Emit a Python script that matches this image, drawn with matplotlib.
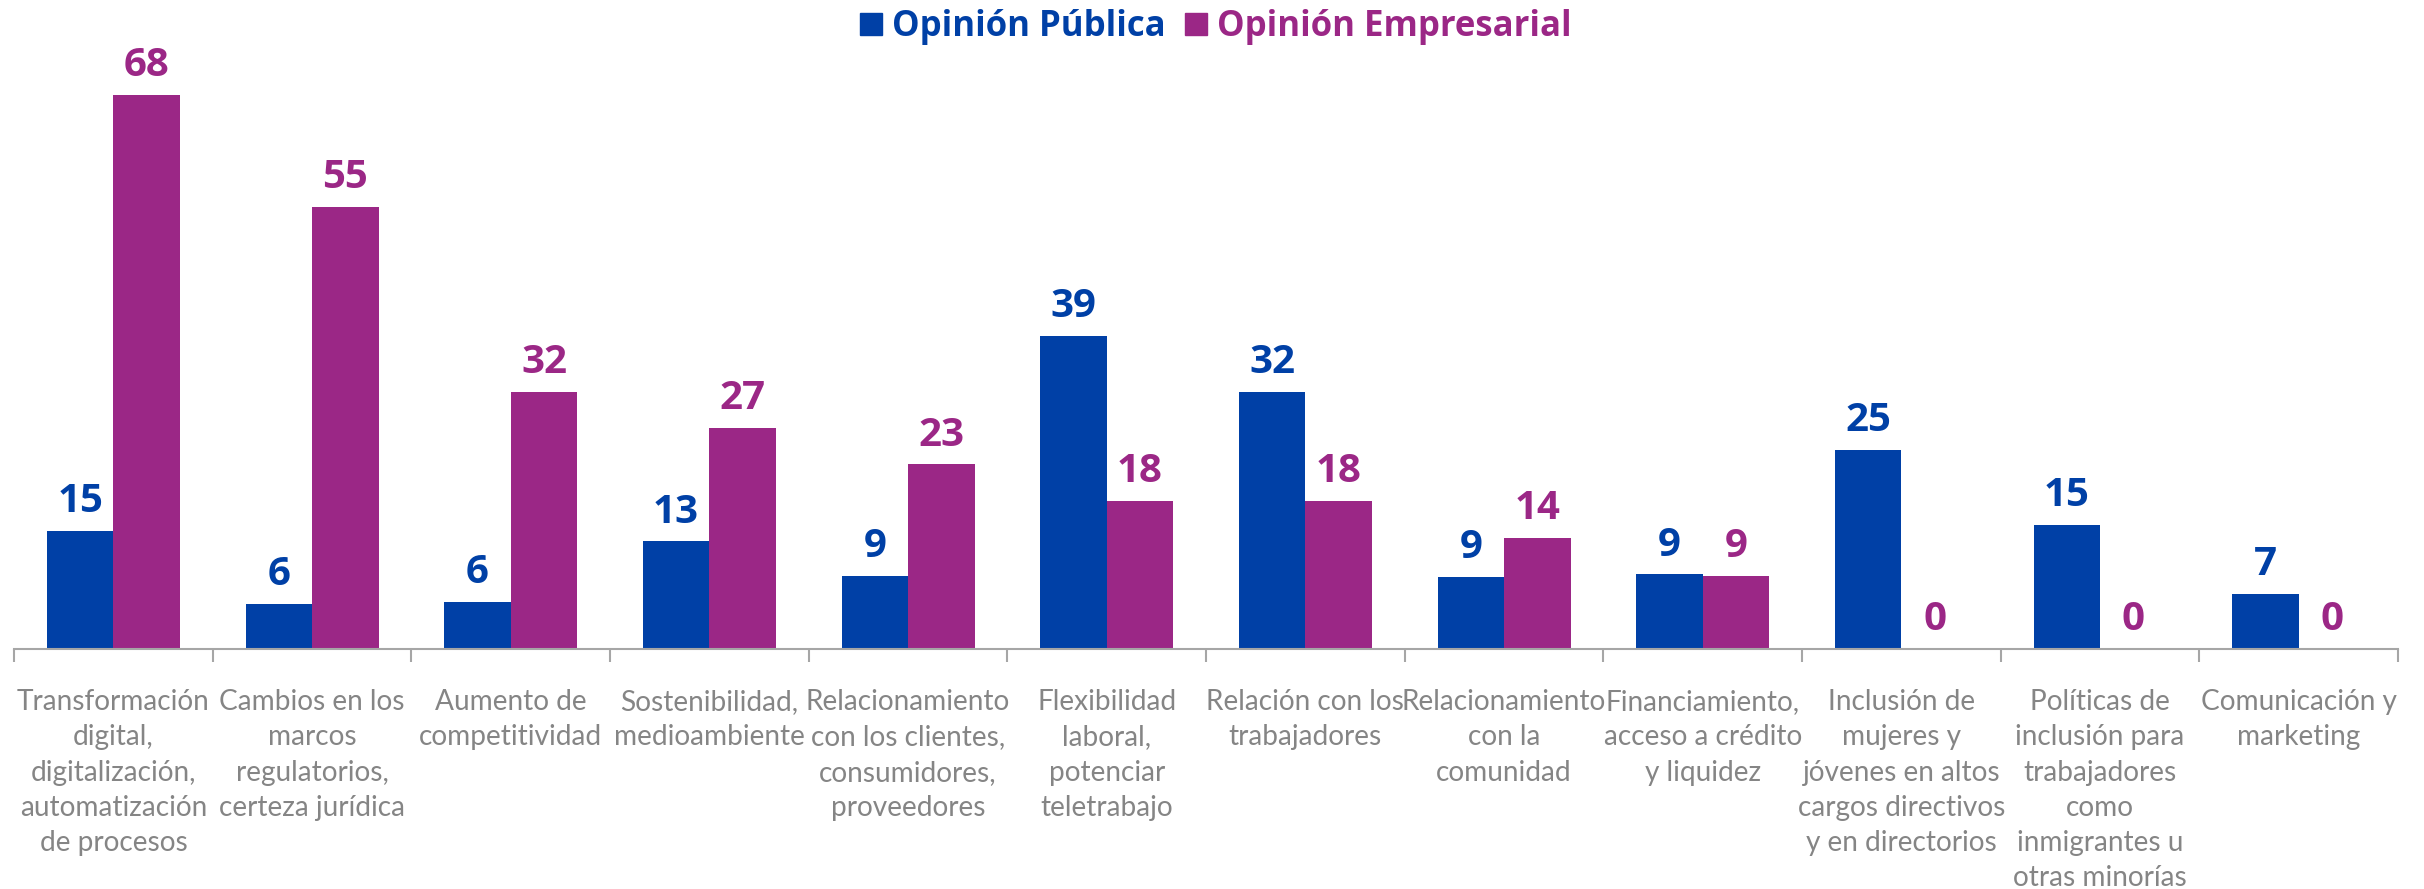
"""
Opinión pública vs empresarial — grouped bar chart.
"""

import matplotlib.pyplot as plt
import numpy as np
from matplotlib.lines import Line2D

# ─── Data ─────────────────────────────────────────────────────────────────────

CATEGORIES = [
    "Transformación\ndigital,\ndigitalización,\nautomatización\nde procesos",
    "Cambios en los\nmarcos\nregulatorios,\ncerteza jurídica",
    "Aumento de\ncompetitividad",
    "Sostenibilidad,\nmedioambiente",
    "Relacionamiento\ncon los clientes,\nconsumidores,\nproveedores",
    "Flexibilidad\nlaboral,\npotenciar\nteletrabajo",
    "Relación con los\ntrabajadores",
    "Relacionamiento\ncon la\ncomunidad",
    "Financiamiento,\nacceso a crédito\ny liquidez",
    "Inclusión de\nmujeres y\njóvenes en altos\ncargos directivos\ny en directorios",
    "Políticas de\ninclusión para\ntrabajadores\ncomo\ninmigrantes u\notras minorías",
    "Comunicación y\nmarketing",
]

OPINION_PUBLICA = [14.6, 5.6, 5.8, 13.3, 9.0, 38.7, 31.8, 8.9, 9.2, 24.6, 15.3, 6.8]
OPINION_EMPRESARIAL = [68.4, 54.6, 31.8, 27.3, 22.8, 18.3, 18.3, 13.7, 9.0, 0, 0, 0]

SERIES_LABELS = ["Opinión Pública", "Opinión Empresarial"]

# ─── Style ────────────────────────────────────────────────────────────────────

BLUE = "#0040A6"
PURPLE = "#9B2786"
LABEL_GREY = "#858585"
AXIS_GREY = "#A6A6A6"
NUM_FONT = ["Open Sans", "DejaVu Sans"]
CAT_FONT = ["Lato", "DejaVu Sans"]

BAR_W = 0.335


def main():
    fig = plt.figure(figsize=(24.24, 8.89), dpi=100)
    ax = fig.add_axes([0.0058, 0.270, 0.9835, 0.683])

    x = np.arange(len(CATEGORIES))
    series = [(OPINION_PUBLICA, BLUE, -BAR_W / 2),
              (OPINION_EMPRESARIAL, PURPLE, BAR_W / 2)]

    for vals, color, shift in series:
        bars = ax.bar(x + shift, vals, width=BAR_W, color=color, zorder=2)
        for b, v in zip(bars, vals):
            ax.annotate(f"{v:.0f}", (b.get_x() + b.get_width() / 2, v),
                        xytext=(0, 7), textcoords="offset points",
                        ha="center", va="bottom", fontsize=29,
                        fontweight="bold", color=color, family=NUM_FONT)

    ax.set_xlim(-0.5, len(CATEGORIES) - 0.5)
    ax.set_ylim(0, 75)

    for side in ("top", "right", "left"):
        ax.spines[side].set_visible(False)
    ax.spines["bottom"].set_color(AXIS_GREY)
    ax.spines["bottom"].set_linewidth(1.5)
    ax.set_yticks([])

    ax.set_xticks(x)
    ax.set_xticklabels(CATEGORIES, fontsize=20.2, color=LABEL_GREY,
                       family=CAT_FONT, linespacing=1.44, va="top")
    ax.tick_params(axis="x", which="major", length=0, pad=29)
    ax.set_xticks(np.arange(len(CATEGORIES) + 1) - 0.5, minor=True)
    ax.tick_params(axis="x", which="minor", length=9, width=1.5,
                   color=AXIS_GREY)

    handles = [Line2D([0], [0], marker="s", ls="", markersize=16,
                      markerfacecolor=c, markeredgecolor=c)
               for c in (BLUE, PURPLE)]
    leg = fig.legend(handles, SERIES_LABELS, loc="center",
                     bbox_to_anchor=(0.501, 0.970), ncol=2, frameon=False,
                     handlelength=0.8, handletextpad=0.2, columnspacing=0.5,
                     prop={"family": NUM_FONT, "weight": "bold", "size": 25})
    for txt, c in zip(leg.get_texts(), (BLUE, PURPLE)):
        txt.set_color(c)

    fig.savefig("out.png", dpi=100)
    plt.close(fig)


if __name__ == "__main__":
    main()
